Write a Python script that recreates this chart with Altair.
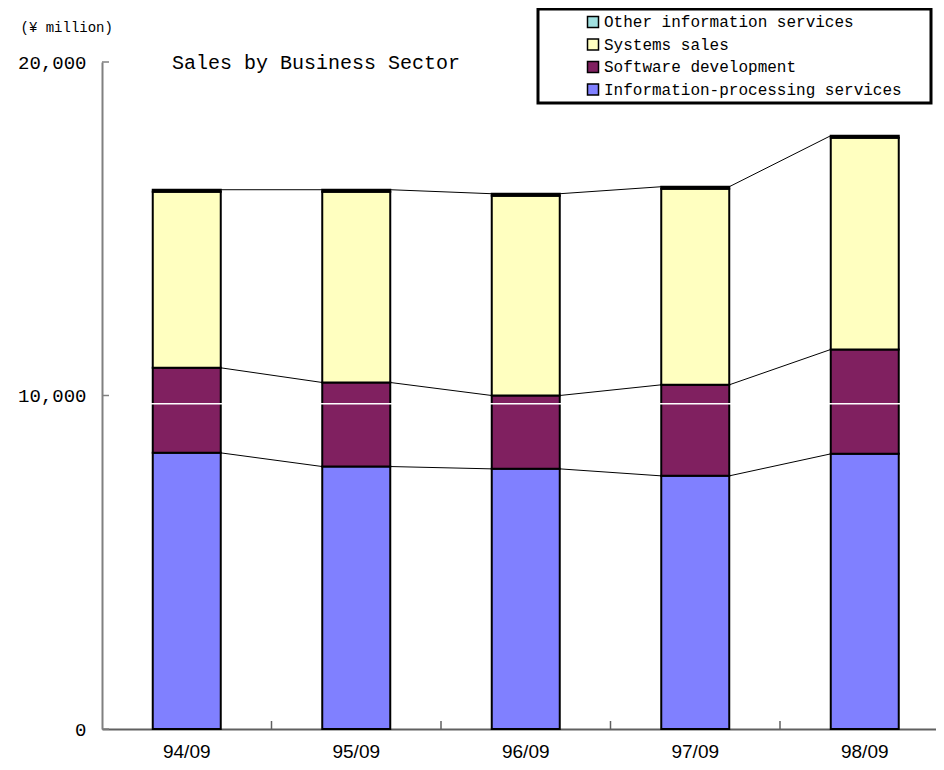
import altair as alt
import pandas as pd

periods = ["94/09", "95/09", "96/09", "97/09", "98/09"]
info = [8280, 7870, 7800, 7590, 8250]
software = [2550, 2520, 2200, 2730, 3130]
systems = [5280, 5720, 5990, 5880, 6350]
other = [60, 60, 60, 60, 60]
series = ["Information-processing services", "Software development",
          "Systems sales", "Other information services"]
colors = ["#8080FF", "#802060", "#FFFFC0", "#A0E0E0"]
y_ticks = [0, 10000, 20000]
artifact_line = [9750]
chart_title = ["Sales by Business Sector"]

values = [info, software, systems, other]
rows = []
for si, s in enumerate(series):
    for pi, p in enumerate(periods):
        rows.append({"period": p, "series": s, "value": values[si][pi], "ord": si})
df = pd.DataFrame(rows)

lv1 = [a for a in info]
lv2 = [a + b for a, b in zip(info, software)]
lv3 = [a + b + c + d for a, b, c, d in zip(info, software, systems, other)]
crow = []
for lv in (lv1, lv2, lv3):
    for i in range(len(periods) - 1):
        crow.append({"period": periods[i], "next": periods[i + 1], "y": lv[i], "y2": lv[i + 1]})
conn = pd.DataFrame(crow)

MONO = "Liberation Mono"
step = 169.5
xscale = alt.Scale(domain=periods, range=[0, step * 5], paddingInner=0, paddingOuter=0)
yscale = alt.Scale(domain=[0, 20000], nice=False)

x_axis = alt.Axis(title=None, labelAngle=0, ticks=False, domainColor="#606060",
                  domainWidth=2, labelFont="Liberation Sans", labelFontSize=19,
                  labelColor="black", labelPadding=13, grid=False)
y_axis = alt.Axis(values=y_ticks, labelExpr="format(datum.value, ',')", ticks=False, grid=False,
                  domainColor="#808080", domainWidth=2,
                  labelFont=MONO, labelFontSize=19, labelColor="black", labelPadding=16,
                  title="(¥ million)", titleAngle=0, titleAlign="left",
                  titleBaseline="middle", titleX=-82, titleY=-35,
                  titleFont=MONO, titleFontSize=14, titleFontWeight="normal",
                  titleColor="black")

legend_order = list(reversed(series))
legend_colors = list(reversed(colors))
PAD = "\u2800" * 2

bars = alt.Chart(df).mark_bar(size=68, stroke="black", strokeWidth=2).encode(
    x=alt.X("period:N", sort=periods, scale=xscale, axis=x_axis),
    y=alt.Y("value:Q", stack="zero", scale=yscale, axis=y_axis),
    color=alt.Color("series:N", scale=alt.Scale(domain=legend_order, range=legend_colors),
                    legend=alt.Legend(title=None, orient="none", legendX=436, legendY=-53,
                                      symbolType="square", symbolSize=121,
                                      symbolStrokeColor="black", symbolStrokeWidth=1.5,
                                      symbolOpacity=1, symbolOffset=42,
                                      labelFont=MONO, labelFontSize=16, labelColor="black",
                                      labelOffset=3, rowPadding=4.5, padding=5,
                                      strokeColor="black", fillColor="white",
                                      labelExpr="datum.label + '" + PAD + "'", labelLimit=600)),
    order=alt.Order("ord:Q", sort="ascending"),
)

connectors = alt.Chart(conn).mark_rule(color="black", strokeWidth=1, xOffset=34, x2Offset=-34).encode(
    x=alt.X("period:N", sort=periods, scale=xscale, axis=x_axis),
    x2="next:N",
    y=alt.Y("y:Q", scale=yscale, axis=y_axis),
    y2="y2:Q",
)

white_line = alt.Chart(pd.DataFrame({"v": artifact_line})).mark_rule(color="white", strokeWidth=1.5).encode(
    y=alt.Y("v:Q", scale=yscale, axis=y_axis),
    x=alt.value(2), x2=alt.value(step * 5),
)

yticks = alt.Chart(pd.DataFrame({"v": y_ticks})).mark_rule(color="#808080", strokeWidth=1.5).encode(
    y=alt.Y("v:Q", scale=yscale, axis=y_axis),
    x=alt.value(0), x2=alt.value(7),
)

xticks = alt.Chart(pd.DataFrame({"period": periods})).mark_rule(
    color="#606060", strokeWidth=1.5, xOffset=step / 2).encode(
    x=alt.X("period:N", sort=periods, scale=xscale, axis=x_axis),
    y=alt.value(659), y2=alt.value(667),
)

title_text = alt.Chart(pd.DataFrame({"t": chart_title})).mark_text(
    font=MONO, fontSize=20, color="black", align="left", baseline="middle").encode(
    text="t:N", x=alt.value(70), y=alt.value(1),
)

chart = alt.layer(bars, connectors, white_line, yticks, xticks, title_text).properties(
    width=834, height=667,
    background="white",
    autosize=alt.AutoSizeParams(type="none"),
    padding={"left": 94, "top": 54, "right": 0, "bottom": 32},
).configure_view(stroke=None).configure_legend(strokeWidth=3).configure_axis(grid=False)

chart.save("out.html", embed_options={"renderer": "svg", "actions": False})
